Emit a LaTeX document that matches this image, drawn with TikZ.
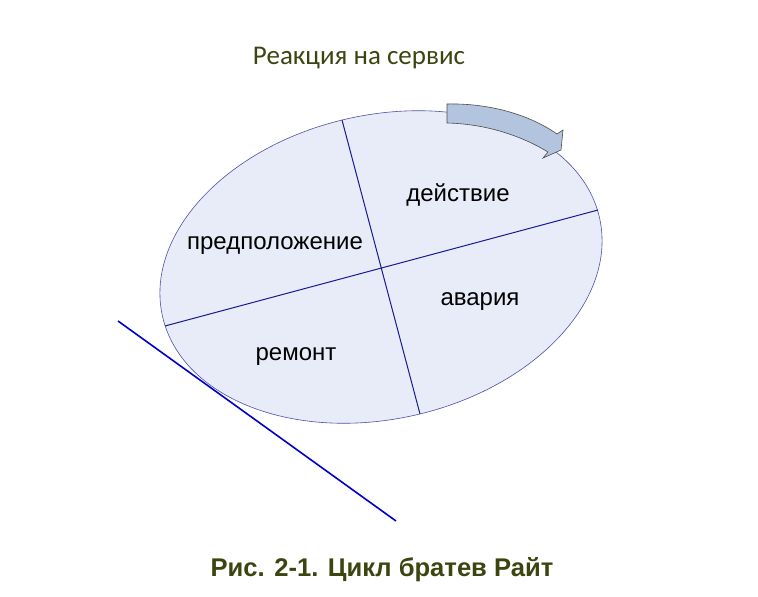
\documentclass[tikz,border=0pt]{standalone}
\usepackage{fontspec}
\setmainfont{Liberation Sans}
\newfontfamily\headfont{Carlito}
\usetikzlibrary{positioning}
\definecolor{darkolive}{RGB}{60,68,16}
\definecolor{ovalfill}{RGB}{232,236,248}
\definecolor{ovalline}{RGB}{80,80,165}
\definecolor{darkblue}{RGB}{25,25,145}
\definecolor{arrowfill}{RGB}{178,196,222}

\begin{document}
\begin{tikzpicture}[x=1pt,y=-1pt]
\tikzstyle{phase}=[font=\fontsize{24}{28}\selectfont, inner sep=0pt]
\tikzstyle{oval}=[draw=ovalline, fill=ovalfill, line width=0.6pt]
\tikzstyle{divider}=[draw=darkblue, line width=1pt]
\tikzstyle{tangent}=[draw=blue!80!black, line width=1.6pt]
\tikzstyle{turn}=[draw=black!70, fill=arrowfill, line width=0.6pt]

\useasboundingbox (0,0) rectangle (758,597);

\node[text=darkolive, font=\headfont\fontsize{27}{31}\selectfont] (head) at (359,58) {Реакция на сервис};

\coordinate (c) at (381,267);
\draw[oval, rotate around={12.7:(c)}] (c) ellipse [x radius=224, y radius=152];

% chords through the centre
\coordinate (w) at (165,326);
\coordinate (e) at (598,210);
\coordinate (n) at (342,120);
\coordinate (s) at (420,414);
\path[divider]
	(w) edge (e)
	(n) edge (s);

% cycle direction
\draw[turn] (447,104) .. controls (490,103) and (530,115) .. (557,134)
	-- (563,130) -- (561,150) -- (543,158) -- (548,152)
	.. controls (525,138) and (490,124) .. (447,123) -- cycle;

\node[phase] (act) at (458,195) {действие};
\node[phase] (guess) at (275,246) {предположение};
\node[phase] (fail) at (480,302) {авария};
\node[phase] (fix) at (296,357) {ремонт};

\coordinate (t1) at (118,321);
\coordinate (t2) at (396,521);
\draw[tangent] (t1) -- (t2);

\node[text=darkolive, font=\bfseries\fontsize{25.6}{30}\selectfont] (caption) at (382,570) {Рис. 2-1. Цикл братев Райт};
\end{tikzpicture}
\end{document}
